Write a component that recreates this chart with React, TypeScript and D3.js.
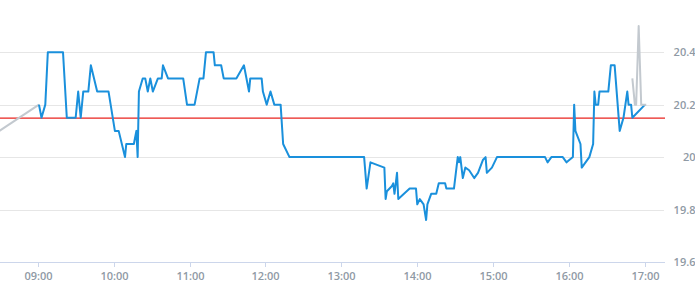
import React from "react";
import * as d3 from "d3";

// ---- data ----
const sessionPrices: [string, number][] = [
  ["09:01", 20.2], ["09:03", 20.15], ["09:06", 20.2], ["09:08", 20.4], ["09:20", 20.4],
  ["09:23", 20.15], ["09:30", 20.15], ["09:32", 20.25], ["09:34", 20.15], ["09:36", 20.25],
  ["09:40", 20.25], ["09:42", 20.35], ["09:47", 20.25], ["09:56", 20.25], ["10:01", 20.1],
  ["10:04", 20.1], ["10:09", 20.0], ["10:10", 20.05], ["10:16", 20.05], ["10:18", 20.1],
  ["10:19", 20.0], ["10:20", 20.25], ["10:23", 20.3], ["10:25", 20.3], ["10:27", 20.25],
  ["10:29", 20.3], ["10:31", 20.25], ["10:35", 20.3], ["10:38", 20.3], ["10:39", 20.35],
  ["10:43", 20.3], ["10:55", 20.3], ["10:58", 20.2], ["11:04", 20.2], ["11:08", 20.3],
  ["11:11", 20.3], ["11:13", 20.4], ["11:19", 20.4], ["11:20", 20.35], ["11:25", 20.35],
  ["11:27", 20.3], ["11:37", 20.3], ["11:43", 20.35], ["11:47", 20.25], ["11:48", 20.3],
  ["11:57", 20.3], ["11:58", 20.25], ["12:01", 20.2], ["12:04", 20.25], ["12:07", 20.2],
  ["12:12", 20.2], ["12:14", 20.05], ["12:19", 20.0], ["13:18", 20.0], ["13:20", 19.88],
  ["13:23", 19.98], ["13:34", 19.96], ["13:35", 19.84], ["13:36", 19.87], ["13:40", 19.89],
  ["13:41", 19.9], ["13:42", 19.86], ["13:44", 19.94], ["13:45", 19.84], ["13:54", 19.88],
  ["13:59", 19.88], ["14:00", 19.82], ["14:02", 19.84], ["14:05", 19.82], ["14:07", 19.76],
  ["14:08", 19.82], ["14:11", 19.86], ["14:15", 19.86], ["14:17", 19.9], ["14:22", 19.9],
  ["14:23", 19.88], ["14:29", 19.88], ["14:32", 20.0], ["14:33", 19.98], ["14:34", 20.0],
  ["14:36", 19.92], ["14:38", 19.96], ["14:41", 19.95], ["14:45", 19.92], ["14:48", 19.94],
  ["14:52", 19.99], ["14:54", 20.0], ["14:55", 19.94], ["14:59", 19.96], ["15:03", 20.0],
  ["15:41", 20.0], ["15:43", 19.98], ["15:46", 20.0], ["15:55", 20.0], ["15:58", 19.98],
  ["16:03", 20.0], ["16:04", 20.2], ["16:05", 20.1], ["16:09", 20.05], ["16:10", 19.96],
  ["16:16", 20.0], ["16:19", 20.05], ["16:20", 20.25], ["16:21", 20.2], ["16:23", 20.2],
  ["16:24", 20.25], ["16:31", 20.25], ["16:33", 20.35], ["16:36", 20.35], ["16:40", 20.1],
  ["16:43", 20.15], ["16:46", 20.25], ["16:47", 20.2], ["16:49", 20.2], ["16:50", 20.15],
  ["17:00", 20.2],
];
const preMarket: [string, number][] = [
  ["08:25", 20.085], ["09:01", 20.2],
];
const afterHours: [string, number][] = [
  ["16:50", 20.3], ["16:52", 20.2], ["16:53", 20.2], ["16:55", 20.5], ["16:57", 20.2], ["17:01", 20.2],
];
const previousClose = 20.15;
const yTicks = [19.6, 19.8, 20, 20.2, 20.4];
const xTickTimes = ["09:00", "10:00", "11:00", "12:00", "13:00", "14:00", "15:00", "16:00", "17:00"];

// ---- helpers ----
const toDate = (s: string) => {
  const [h, m, sec] = s.split(":").map(Number);
  return new Date(2020, 0, 1, h, m, sec || 0);
};

const W = 695;
const H = 300;
const plotLeft = 0;
const plotRight = 665;
const plotBottom = 262;

export default function App() {
  const x = d3.scaleTime().domain([toDate("09:00"), toDate("17:00")]).range([37.7, 645]);
  const y = d3.scaleLinear().domain([19.6, 20.4]).range([262, 52.2]);

  const line = d3
    .line<[string, number]>()
    .x((d) => x(toDate(d[0])))
    .y((d) => y(d[1]));

  const fmt = d3.timeFormat("%H:%M");
  const font = "'Open Sans', 'Noto Sans', sans-serif";
  const refY = y(previousClose) + 0.3;

  return (
    <svg
      width={W}
      height={H}
      style={{ position: "absolute", left: 0, top: 0, background: "#fff" }}
    >
      <defs>
        <clipPath id="plot">
          <rect x={plotLeft} y={0} width={plotRight - plotLeft} height={plotBottom + 2} />
        </clipPath>
      </defs>
      {/* grid */}
      {yTicks.slice(1).map((t) => (
        <line
          key={t}
          x1={plotLeft}
          x2={plotRight - 1}
          y1={Math.round(y(t)) + 0.5}
          y2={Math.round(y(t)) + 0.5}
          stroke="#e6e6e6"
        />
      ))}
      {/* x axis */}
      <line x1={plotLeft} x2={plotRight} y1={262.5} y2={262.5} stroke="#ccd6eb" />
      {xTickTimes.map((t) => {
        const xx = Math.round(x(toDate(t))) + 0.5;
        return (
          <g key={t}>
            <line x1={xx} x2={xx} y1={262} y2={267} stroke="#ccd6eb" />
            <text
              x={xx}
              y={280}
              textAnchor="middle"
              fontFamily={font}
              fontSize={11}
              fontWeight={600}
              fill="#8f9aa5"
            >
              {fmt(toDate(t))}
            </text>
          </g>
        );
      })}
      {/* y labels */}
      {yTicks.map((t) => (
        <text
          key={t}
          x={695.5}
          y={y(t) + 4}
          textAnchor="end"
          fontFamily={font}
          fontSize={11}
          fontWeight={600}
          fill="#8f9aa5"
        >
          {d3.format("~g")(t)}
        </text>
      ))}
      {/* reference line */}
      <line
        x1={plotLeft}
        x2={plotRight}
        y1={refY}
        y2={refY}
        stroke="#e8231e"
        strokeWidth={1.3}
      />
      <g clipPath="url(#plot)">
        <path d={line(preMarket) || ""} fill="none" stroke="#c3c9cf" strokeWidth={2} />
        <path
          d={line(sessionPrices) || ""}
          fill="none"
          stroke="#1a90dc"
          strokeWidth={2}
          strokeLinejoin="round"
        />
        <path
          d={line(afterHours) || ""}
          fill="none"
          stroke="#c3c9cf"
          strokeWidth={2}
          strokeLinejoin="round"
        />
      </g>
    </svg>
  );
}
